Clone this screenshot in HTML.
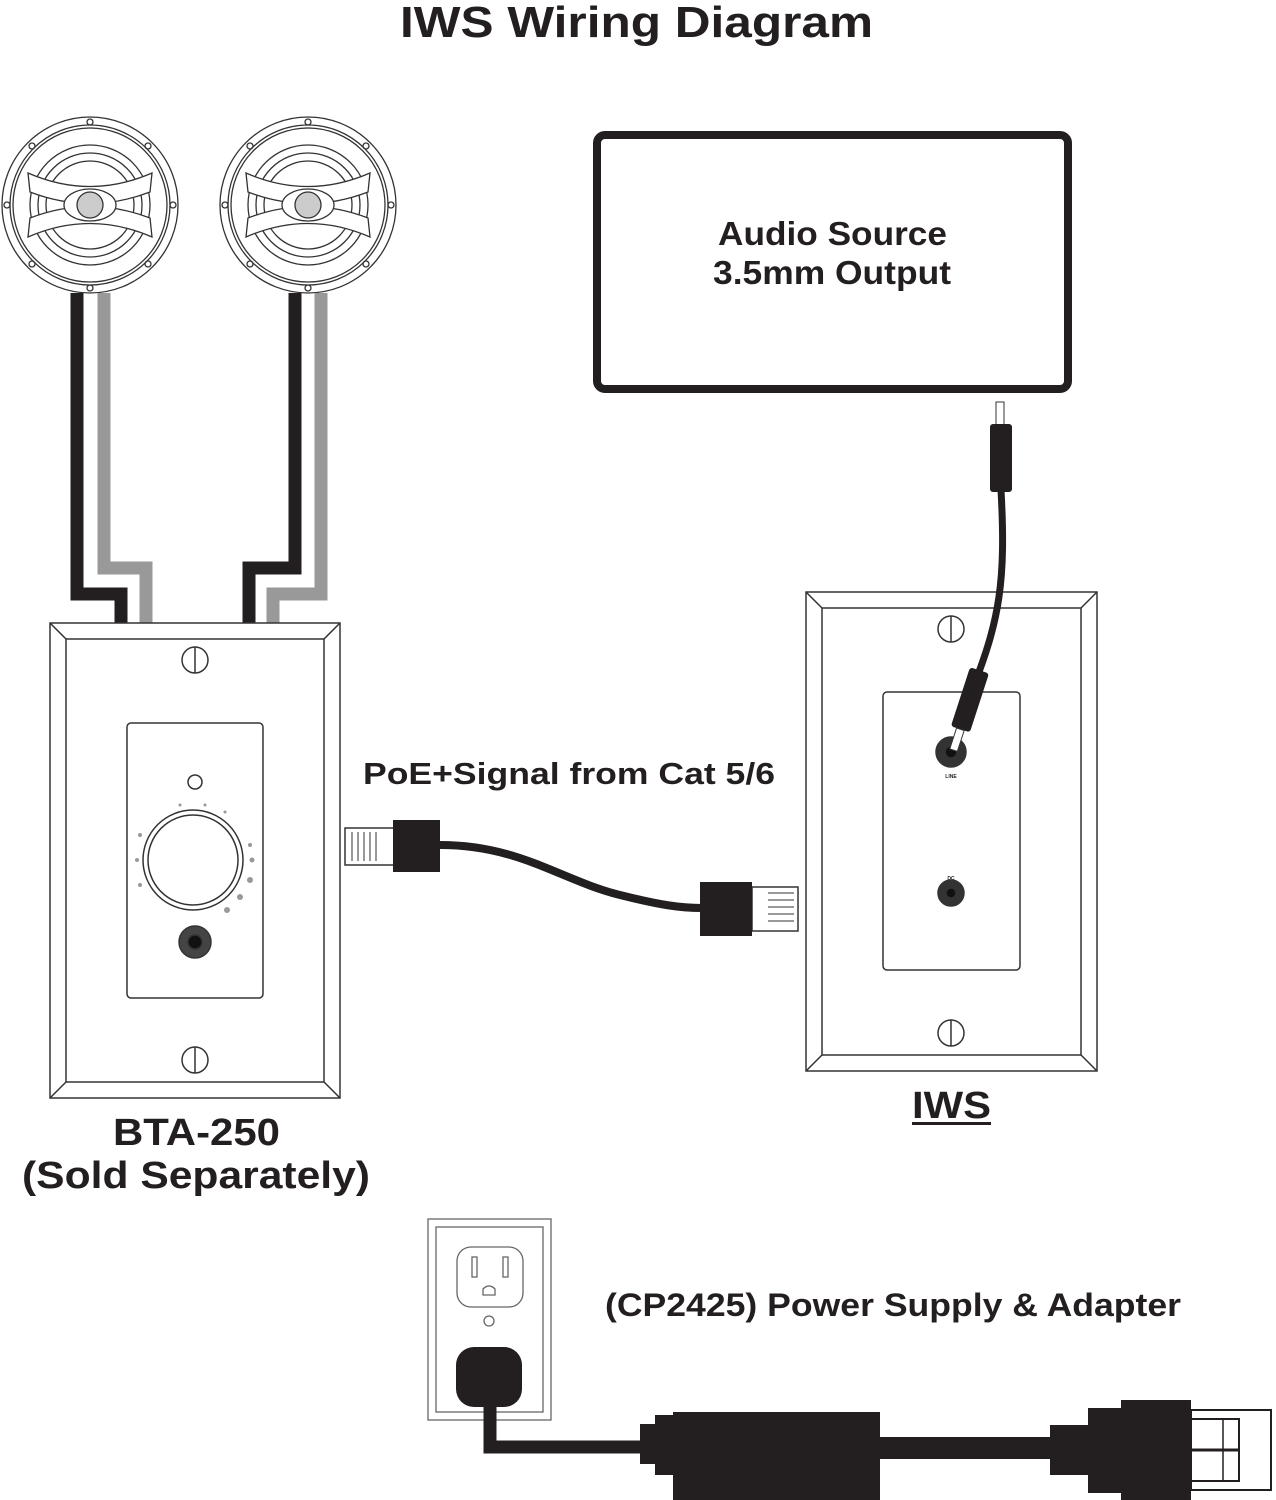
<!DOCTYPE html>
<html><head><meta charset="utf-8"><style>
html,body{margin:0;padding:0;background:#fff}
svg{display:block}
text{font-family:"Liberation Sans",sans-serif;font-weight:bold;fill:#231f20}
</style></head><body>
<svg width="1276" height="1500" viewBox="0 0 1276 1500" xmlns="http://www.w3.org/2000/svg">
<text x="400" y="37" font-size="44" textLength="473" lengthAdjust="spacingAndGlyphs">IWS Wiring Diagram</text>

<!-- speakers -->
<g fill="none" stroke="#333" stroke-width="1.3">
 <g id="spk">
  <circle cx="90" cy="205" r="88"/><circle cx="90" cy="205" r="80"/><circle cx="90" cy="205" r="77"/>
  <circle cx="90" cy="205" r="60"/><circle cx="90" cy="205" r="52"/><circle cx="90" cy="205" r="44"/>
  <path d="M28 173 Q90 200 152 173 L150 192 Q90 215 30 192 Z" fill="#fff"/>
  <path d="M28 237 Q90 210 152 237 L150 218 Q90 195 30 218 Z" fill="#fff"/>
  <ellipse cx="90" cy="205" rx="26" ry="16" fill="#fff"/>
  <circle cx="90" cy="205" r="13" fill="#ccc"/>
  <circle cx="90" cy="122" r="3"/><circle cx="90" cy="288" r="3"/><circle cx="7" cy="205" r="3"/><circle cx="173" cy="205" r="3"/>
  <circle cx="32" cy="146" r="3"/><circle cx="148" cy="146" r="3"/><circle cx="32" cy="264" r="3"/><circle cx="148" cy="264" r="3"/>
 </g>
 <use href="#spk" x="218"/>
</g>

<!-- speaker wires -->
<g fill="none" stroke-width="13" stroke-linejoin="miter">
 <path d="M77 293 V594 H121 V623" stroke="#231f20"/>
 <path d="M104 293 V568 H146 V623" stroke="#999"/>
 <path d="M295 293 V568 H249 V623" stroke="#231f20"/>
 <path d="M321 293 V594 H273 V623" stroke="#999"/>
</g>

<!-- BTA plate -->
<g fill="#fff" stroke="#333" stroke-width="1.5">
 <rect x="50" y="623" width="290" height="475"/>
 <rect x="66" y="639" width="258" height="443"/>
 <path d="M50 623 L66 639 M340 623 L324 639 M50 1098 L66 1082 M340 1098 L324 1082" fill="none"/>
 <rect x="127" y="723" width="136" height="275" rx="4"/>
 <circle cx="195" cy="660" r="13"/><line x1="195" y1="647" x2="195" y2="673"/>
 <circle cx="195" cy="1060" r="13"/><line x1="195" y1="1047" x2="195" y2="1073"/>
 <circle cx="195" cy="782" r="7"/>
 <circle cx="193" cy="860" r="50"/><circle cx="193" cy="860" r="45"/>
 <circle cx="195" cy="942" r="16" fill="#444"/><circle cx="195" cy="942" r="7" fill="#111"/>
</g>
<g fill="#999">
 <circle cx="140" cy="835" r="2"/><circle cx="137" cy="860" r="2"/><circle cx="140" cy="885" r="2"/>
 <circle cx="250" cy="845" r="2"/><circle cx="252" cy="860" r="2.5"/><circle cx="250" cy="880" r="3"/><circle cx="240" cy="897" r="3"/><circle cx="227" cy="910" r="3"/>
 <circle cx="180" cy="805" r="1.5"/><circle cx="205" cy="805" r="1.5"/><circle cx="225" cy="812" r="1.5"/>
</g>

<!-- IWS plate -->
<g fill="#fff" stroke="#333" stroke-width="1.5">
 <rect x="806" y="592" width="291" height="479"/>
 <rect x="822" y="608" width="259" height="447"/>
 <path d="M806 592 L822 608 M1097 592 L1081 608 M806 1071 L822 1055 M1097 1071 L1081 1055" fill="none"/>
 <rect x="883" y="692" width="137" height="278" rx="4"/>
 <circle cx="951" cy="629" r="13"/><line x1="951" y1="616" x2="951" y2="642"/>
 <circle cx="951" cy="1033" r="13"/><line x1="951" y1="1020" x2="951" y2="1046"/>
 <circle cx="951" cy="752" r="15" fill="#333"/><circle cx="951" cy="752" r="6" fill="#111"/>
 <circle cx="951" cy="893" r="13" fill="#333"/><circle cx="951" cy="893" r="5" fill="#111"/>
</g>
<text x="951" y="778" font-size="5" text-anchor="middle" font-weight="normal">LINE</text>
<text x="951" y="880" font-size="5" text-anchor="middle" font-weight="normal">DC</text>

<!-- audio source -->
<rect x="597" y="135" width="471" height="254" rx="8" fill="#fff" stroke="#231f20" stroke-width="8"/>
<text x="718" y="245" font-size="33" textLength="229" lengthAdjust="spacingAndGlyphs">Audio Source</text>
<text x="713" y="284" font-size="33" textLength="238" lengthAdjust="spacingAndGlyphs">3.5mm Output</text>

<!-- 3.5mm cable -->
<path d="M1001 490 C1006 580, 1000 620, 972 690" fill="none" stroke="#231f20" stroke-width="7"/>
<rect x="996" y="402" width="8" height="24" fill="#fff" stroke="#333"/>
<rect x="990" y="424" width="22" height="68" rx="3" fill="#231f20"/>
<g transform="rotate(18 965 715)">
 <rect x="955" y="668" width="20" height="62" rx="3" fill="#231f20"/>
 <rect x="961" y="730" width="8" height="22" fill="#fff" stroke="#333"/>
</g>

<!-- ethernet -->
<path d="M440 845 C520 845, 560 880, 620 895 C660 905, 680 908, 702 908" fill="none" stroke="#231f20" stroke-width="8"/>
<rect x="345" y="828" width="50" height="37" fill="#fff" stroke="#333" stroke-width="1.5"/>
<g stroke="#333"><line x1="352" y1="832" x2="352" y2="861"/><line x1="358" y1="832" x2="358" y2="861"/><line x1="364" y1="832" x2="364" y2="861"/><line x1="370" y1="832" x2="370" y2="861"/><line x1="376" y1="832" x2="376" y2="861"/></g>
<rect x="393" y="820" width="47" height="52" fill="#231f20"/>
<rect x="752" y="887" width="46" height="44" fill="#fff" stroke="#333" stroke-width="1.5"/>
<g stroke="#333"><line x1="768" y1="893" x2="794" y2="893"/><line x1="768" y1="900" x2="794" y2="900"/><line x1="768" y1="907" x2="794" y2="907"/><line x1="768" y1="914" x2="794" y2="914"/><line x1="768" y1="921" x2="794" y2="921"/></g>
<rect x="700" y="882" width="52" height="54" fill="#231f20"/>
<text x="363" y="784" font-size="31" textLength="412" lengthAdjust="spacingAndGlyphs">PoE+Signal from Cat 5/6</text>

<text x="113" y="1145" font-size="38" textLength="167" lengthAdjust="spacingAndGlyphs">BTA-250</text>
<text x="22" y="1188" font-size="38" textLength="348" lengthAdjust="spacingAndGlyphs">(Sold Separately)</text>
<text x="912" y="1118" font-size="38" textLength="79" lengthAdjust="spacingAndGlyphs">IWS</text>
<rect x="912" y="1122" width="79" height="3" fill="#231f20"/>

<!-- outlet -->
<g fill="#fff" stroke="#666" stroke-width="1.3">
 <rect x="428" y="1219" width="123" height="201"/>
 <rect x="436" y="1227" width="107" height="185"/>
 <rect x="457" y="1247" width="66" height="60" rx="14"/>
 <rect x="472" y="1257" width="5" height="20"/><rect x="503" y="1257" width="5" height="20"/>
 <path d="M483 1295 V1289 Q489 1283 495 1289 V1295 Z"/>
 <circle cx="489" cy="1321" r="5"/>
</g>
<rect x="456" y="1347" width="66" height="60" rx="18" fill="#231f20"/>
<path d="M490 1400 V1447 H650" fill="none" stroke="#231f20" stroke-width="13"/>
<rect x="640" y="1424" width="20" height="40" fill="#231f20"/>
<rect x="655" y="1415" width="20" height="60" fill="#231f20"/>
<rect x="673" y="1412" width="207" height="88" fill="#231f20"/>
<rect x="878" y="1437" width="180" height="22" fill="#231f20"/>
<rect x="1050" y="1425" width="40" height="50" fill="#231f20"/>
<rect x="1088" y="1408" width="35" height="85" fill="#231f20"/>
<rect x="1121" y="1400" width="70" height="100" fill="#231f20"/>
<rect x="1191" y="1410" width="80" height="80" fill="#fff" stroke="#231f20" stroke-width="2"/>
<rect x="1191" y="1419" width="48" height="62" fill="#fff" stroke="#231f20" stroke-width="2"/>
<line x1="1191" y1="1450" x2="1239" y2="1450" stroke="#231f20" stroke-width="3"/>
<line x1="1223" y1="1419" x2="1223" y2="1481" stroke="#231f20" stroke-width="1.5"/>
<text x="605" y="1316" font-size="32" textLength="576" lengthAdjust="spacingAndGlyphs">(CP2425) Power Supply &amp; Adapter</text>
</svg>
</body></html>
